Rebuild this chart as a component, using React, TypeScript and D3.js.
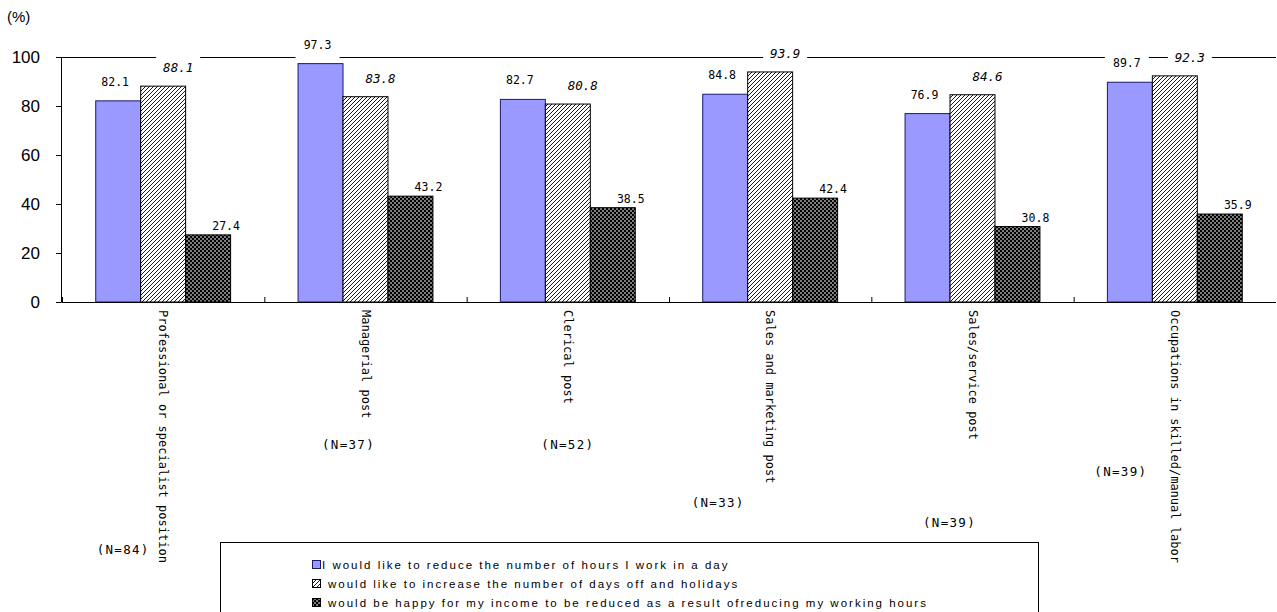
import React from "react";
import * as d3 from "d3";

const categories = [
  "Professional or specialist position",
  "Managerial post",
  "Clerical post",
  "Sales and marketing post",
  "Sales/service post",
  "Occupations in skilled/manual labor",
];
const nCounts = [84, 37, 52, 33, 39, 39];
const reduceHours = [82.1, 97.3, 82.7, 84.8, 76.9, 89.7];
const moreDaysOff = [88.1, 83.8, 80.8, 93.9, 84.6, 92.3];
const incomeReduced = [27.4, 43.2, 38.5, 42.4, 30.8, 35.9];
const yTicks = [0, 20, 40, 60, 80, 100];
const seriesNames = [
  "I would like to reduce the number of hours I work in a day",
  "would like to increase the number of days off and holidays",
  "would be happy for my income to be reduced as a result ofreducing my working hours",
];

// layout (pixel offsets of the hand-placed N annotations, relative to group centre)
const nLabelLayout = [
  { dx: -40, y: 554 },
  { dx: -17, y: 449 },
  { dx: 0, y: 449 },
  { dx: -52, y: 507 },
  { dx: -23, y: 527 },
  { dx: -54, y: 476 },
];

const W = 1277;
const H = 612;

export default function App() {
  const x = d3.scaleBand<string>().domain(categories).range([62, 1276]).paddingInner(0).paddingOuter(0);
  const y = d3.scaleLinear().domain([0, 100]).range([302, 57]);
  const bw = x.bandwidth() / 4.5;
  const series = [
    { key: "s0", values: reduceHours, fill: "#9999FF", stroke: "#1a1a6e", dx: -3, dy: -15, italic: false, size: 11.5 },
    { key: "s1", values: moreDaysOff, fill: "url(#hatch)", stroke: "#000", dx: 15, dy: -14, italic: true, size: 12.5 },
    { key: "s2", values: incomeReduced, fill: "url(#cross)", stroke: "#000", dx: 18, dy: -5, italic: false, size: 11.5 },
  ];
  const barX = (ci: number, si: number) => (x(categories[ci]) as number) + x.bandwidth() / 2 - 1.5 * bw + si * bw;
  const labelFont = "'DejaVu Sans Mono', monospace";

  return (
    <div style={{ position: "absolute", left: 0, top: 0 }}>
      <svg width={W} height={H} style={{ display: "block", background: "#fff" }}>
        <defs>
          <pattern id="hatch" patternUnits="userSpaceOnUse" width={4} height={4}>
            <rect width={4} height={4} fill="#fff" />
            <path d="M-1,1 l2,-2 M0,4 l4,-4 M3,5 l2,-2" stroke="#000" strokeWidth={0.9} />
          </pattern>
          <pattern id="cross" patternUnits="userSpaceOnUse" width={4} height={4}>
            <rect width={4} height={4} fill="#000" />
            <rect x={0.3} y={0.3} width={1.4} height={1.4} fill="#fff" />
            <rect x={2.3} y={2.3} width={1.4} height={1.4} fill="#fff" />
          </pattern>
        </defs>

        {/* (%) */}
        <text x={7} y={22} fontFamily="'Liberation Sans', sans-serif" fontSize={15} fill="#000">(%)</text>

        {/* top line at 100 */}
        <line x1={61.5} x2={1276} y1={y(100) + 0.5} y2={y(100) + 0.5} stroke="#000" strokeWidth={1} />

        {/* label backgrounds */}
        {series.map((s, si) =>
          s.values.map((v, ci) => {
            const cx = barX(ci, si) + bw / 2 + s.dx;
            const by = y(v) + s.dy;
            return <rect key={`bg${si}-${ci}`} x={cx - 22} y={by - 17} width={44} height={27} fill="#fff" />;
          })
        )}

        {/* bars */}
        {series.map((s, si) =>
          s.values.map((v, ci) => (
            <rect
              key={`b${si}-${ci}`}
              x={barX(ci, si)}
              y={y(v)}
              width={bw}
              height={y(0) - y(v)}
              fill={s.fill}
              stroke={s.stroke}
              strokeWidth={1}
            />
          ))
        )}

        {/* y axis */}
        <line x1={61.5} x2={61.5} y1={y(100)} y2={y(0)} stroke="#000" />
        {yTicks.map((t) => (
          <g key={`yt${t}`}>
            <line x1={56} x2={61.5} y1={y(t) + 0.5} y2={y(t) + 0.5} stroke="#000" />
            <text x={40} y={y(t) + 6} textAnchor="end" fontFamily="'Liberation Sans', sans-serif" fontSize={17} fill="#000">
              {t}
            </text>
          </g>
        ))}

        {/* x axis */}
        <line x1={61.5} x2={1276} y1={y(0) + 0.5} y2={y(0) + 0.5} stroke="#000" />
        {categories.map((c, i) => (
          <line key={`xt${i}`} x1={(x(c) as number) + 0.5} x2={(x(c) as number) + 0.5} y1={y(0)} y2={y(0) - 5} stroke="#000" />
        ))}

        {/* value labels */}
        {series.map((s, si) =>
          s.values.map((v, ci) => (
            <text
              key={`l${si}-${ci}`}
              x={barX(ci, si) + bw / 2 + s.dx}
              y={y(v) + s.dy}
              textAnchor="middle"
              fontFamily={labelFont}
              fontStyle={s.italic ? "italic" : "normal"}
              fontSize={s.size}
              fill="#000"
            >
              {v.toFixed(1)}
            </text>
          ))
        )}

        {/* category labels (vertical) */}
        {categories.map((c, i) => {
          const cx = (x(c) as number) + x.bandwidth() / 2;
          return (
            <text
              key={`c${i}`}
              transform={`translate(${cx},310) rotate(90)`}
              dominantBaseline="central"
              fontFamily={labelFont}
              fontSize={12}
              fill="#000"
            >
              {c}
            </text>
          );
        })}

        {/* N labels */}
        {categories.map((c, i) => {
          const cx = (x(c) as number) + x.bandwidth() / 2 + nLabelLayout[i].dx;
          return (
            <text key={`n${i}`} x={cx} y={nLabelLayout[i].y} textAnchor="middle" fontFamily={labelFont} fontSize={12.5} letterSpacing={1.3} fill="#000">
              {`(N=${nCounts[i]})`}
            </text>
          );
        })}

        {/* legend */}
        <rect x={220.5} y={542.5} width={818} height={100} fill="#fff" stroke="#000" strokeWidth={1} />
        {seriesNames.map((name, i) => {
          const ry = 565 + i * 19;
          return (
            <g key={`lg${i}`}>
              <rect x={312.5} y={ry - 4.5} width={8} height={8} fill={series[i].fill} stroke={series[i].stroke} />
              <text x={i === 0 ? 322 : 328} y={ry + 4} fontFamily="'Liberation Sans', sans-serif" fontSize={11.5} letterSpacing={2.0} fill="#000">
                {name}
              </text>
            </g>
          );
        })}
      </svg>
    </div>
  );
}
